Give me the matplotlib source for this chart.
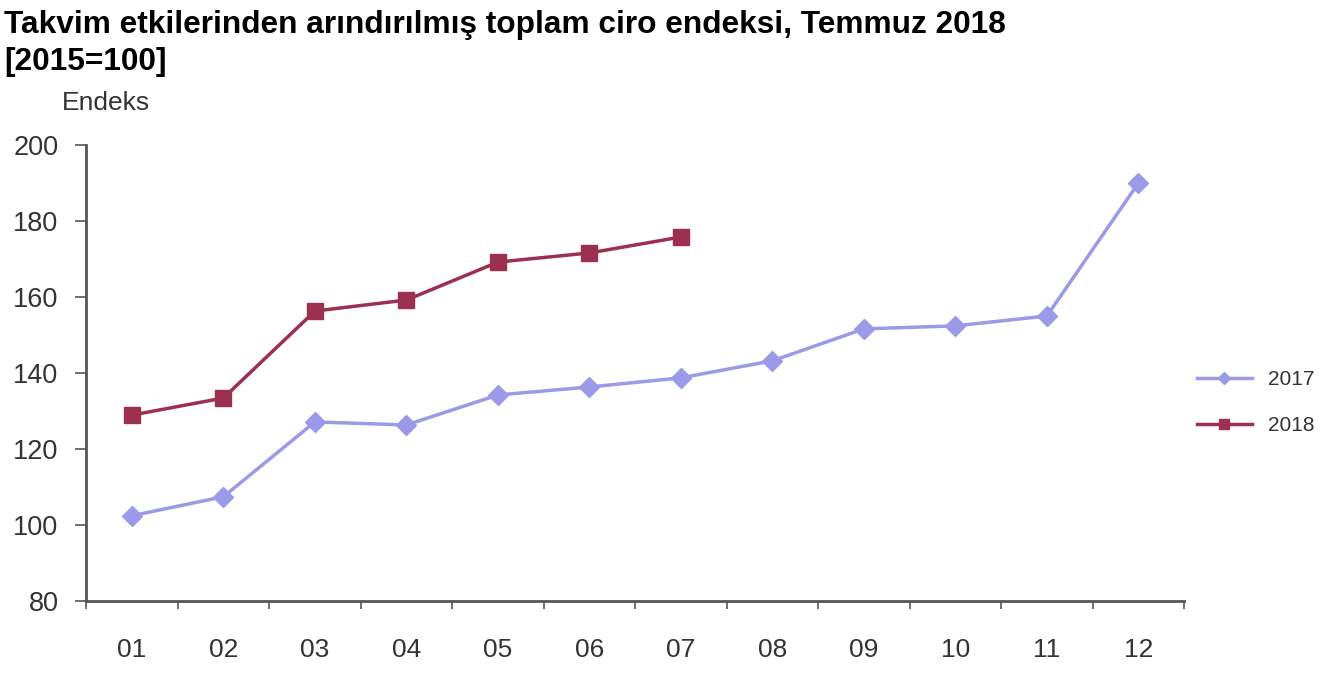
import numpy as np
import matplotlib
matplotlib.use('Agg')
import matplotlib.pyplot as plt
from matplotlib.ticker import MultipleLocator, FixedLocator

plt.rcParams['font.family'] = ['Liberation Sans', 'DejaVu Sans']

months = ['01', '02', '03', '04', '05', '06', '07', '08', '09', '10', '11', '12']
vals_2017 = [102.4, 107.4, 127.1, 126.3, 134.2, 136.3, 138.7, 143.2, 151.6, 152.4, 155.0, 190.0]
vals_2018 = [128.9, 133.4, 156.3, 159.2, 169.2, 171.6, 175.8]

col_2017 = '#9a9ae8'
col_2018 = '#9b3050'

fig = plt.figure(figsize=(13.26, 6.75), dpi=100)
ax = fig.add_axes([0.065, 0.11, 0.828, 0.675])

x = np.arange(len(months))
ax.plot(x, vals_2017, color=col_2017, lw=2.5, marker='D', ms=10, label='2017')
ax.plot(x[:len(vals_2018)], vals_2018, color=col_2018, lw=2.5, marker='s', ms=11, label='2018')

ax.set_xlim(-0.5, len(months) - 0.5)
ax.set_ylim(80, 200)
ax.yaxis.set_major_locator(MultipleLocator(20))
ax.set_xticks(x)
ax.set_xticklabels(months)
# ticks sit between the months
ax.xaxis.set_minor_locator(FixedLocator(np.arange(-0.5, len(months), 1.0)))
ax.tick_params(axis='x', which='major', length=0, pad=27, labelsize=19, colors='#333333')
ax.tick_params(axis='x', which='minor', length=6, width=1.2, color='#555555')
ax.tick_params(axis='y', length=8, width=1.2, color='#555555', labelsize=19.5, labelcolor='#333333', pad=12)

for s in ['top', 'right']:
    ax.spines[s].set_visible(False)
for s in ['left', 'bottom']:
    ax.spines[s].set_color('#555555')
    ax.spines[s].set_linewidth(2)

fig.text(0.003, 0.985, 'Takvim etkilerinden arındırılmış toplam ciro endeksi, Temmuz 2018',
         fontsize=22.8, fontweight='bold', va='top', ha='left')
fig.text(0.003, 0.93, '[2015=100]', fontsize=22.8, fontweight='bold', va='top', ha='left')
fig.text(0.047, 0.848, 'Endeks', fontsize=19, color='#333333', va='center', ha='left')

leg = ax.legend(loc='center left', bbox_to_anchor=(0.995, 0.435), frameon=False,
                fontsize=15, handlelength=2.6, labelspacing=1.3, markerscale=0.6)
for t in leg.get_texts():
    t.set_color('#333333')

fig.savefig('out.png', dpi=100)
